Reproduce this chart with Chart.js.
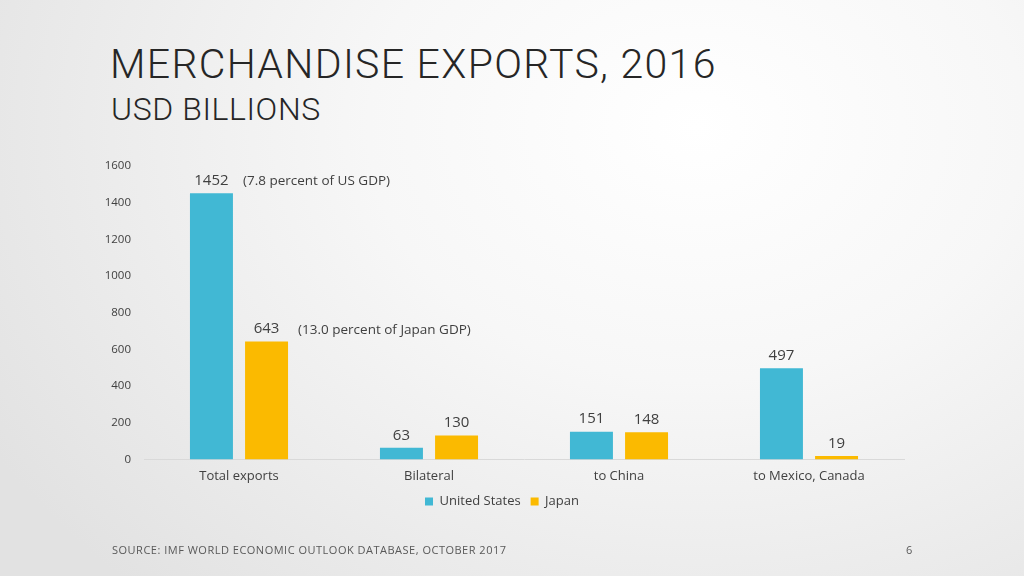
<!DOCTYPE html>
<html>
<head>
<meta charset="utf-8">
<script src="https://cdn.jsdelivr.net/npm/chart.js@4/dist/chart.umd.min.js"></script>
<style>
  html, body { margin: 0; padding: 0; }
  body {
    width: 1024px; height: 576px; overflow: hidden; position: relative;
    background: radial-gradient(ellipse 80% 110% at 68% 22%, #ffffff 0%, #f7f7f7 40%, #e2e2e2 100%);
    font-family: "Open Sans", "Lato", sans-serif; color: #404040;
  }
  #title { position: absolute; left: 110px; top: 44px; font-family: Roboto, sans-serif; font-weight: 300; font-size: 41px; letter-spacing: 1.3px; color: #262626; line-height: 1; }
  #subtitle { position: absolute; left: 111px; top: 93px; font-family: Roboto, sans-serif; font-weight: 300; font-size: 32px; letter-spacing: 0.6px; color: #262626; line-height: 1; }
  #source { position: absolute; left: 112px; top: 542px; font-size: 11px; letter-spacing: 0.5px; color: #595959; }
  #page { position: absolute; left: 906px; top: 542px; font-size: 11px; color: #595959; }
  #wrap { position: absolute; left: 0; top: 0; width: 1024px; height: 576px; }
</style>
</head>
<body>
<div id="title">MERCHANDISE EXPORTS, 2016</div>
<div id="subtitle">USD BILLIONS</div>
<div id="wrap"><canvas id="grafica"></canvas></div>
<div id="source">SOURCE: IMF WORLD ECONOMIC OUTLOOK DATABASE, OCTOBER 2017</div>
<div id="page">6</div>
<script>
var categorias = ['Total exports', 'Bilateral', 'to China', 'to Mexico, Canada'];
var estadosUnidos = [1452, 63, 151, 497];
var japon = [643, 130, 148, 19];
var notasUS = ['(7.8 percent of US GDP)', '', '', ''];
var notasJapon = ['(13.0 percent of Japan GDP)', '', '', ''];
var ticksY = [0, 200, 400, 600, 800, 1000, 1200, 1400, 1600];

/* etiquetas arriba de las barras */
var etiquetas = {
    id: 'etiquetas',
    afterDatasetsDraw: function(chart) {
        var ctx = chart.ctx;
        var notas = [notasUS, notasJapon];
        ctx.save();
        chart.data.datasets.forEach(function(ds, i) {
            var meta = chart.getDatasetMeta(i);
            meta.data.forEach(function(bar, j) {
                ctx.fillStyle = '#404040';
                ctx.font = '15px "Open Sans", sans-serif';
                ctx.textAlign = 'center';
                ctx.textBaseline = 'bottom';
                ctx.fillText(ds.data[j], bar.x, bar.y - 5);
                if (notas[i][j]) {
                    ctx.font = '13.5px "Open Sans", sans-serif';
                    ctx.textAlign = 'left';
                    ctx.fillText(notas[i][j], bar.x + bar.width / 2 + 10, bar.y - 5);
                }
            });
        });
        ctx.restore();
    }
};

var ctx = document.getElementById('grafica').getContext('2d');
window.myBar = new Chart(ctx, {
    type: 'bar',
    data: {
        labels: categorias,
        datasets: [{
            label: 'United States',
            data: estadosUnidos,
            backgroundColor: '#41B8D4',
            categoryPercentage: 0.58,
            barPercentage: 0.78
        }, {
            label: 'Japan',
            data: japon,
            backgroundColor: '#FBBA00',
            categoryPercentage: 0.58,
            barPercentage: 0.78
        }]
    },
    options: {
        responsive: true,
        maintainAspectRatio: false,
        animation: false,
        layout: { padding: { left: 100, right: 120, top: 166, bottom: 58 } },
        plugins: {
            legend: {
                position: 'bottom',
                labels: {
                    usePointStyle: true,
                    pointStyle: 'rect',
                    boxWidth: 8,
                    boxHeight: 8,
                    padding: 10,
                    color: '#404040',
                    font: { family: '"Open Sans", sans-serif', size: 13 }
                }
            },
            tooltip: { enabled: false }
        },
        scales: {
            x: {
                afterFit: function(s) { s.height = s.height - 8; },
                grid: { display: false, drawTicks: false },
                border: { display: true, color: '#d9d9d9', width: 1 },
                ticks: { color: '#404040', padding: 9, font: { family: '"Open Sans", sans-serif', size: 13 } }
            },
            y: {
                min: 0,
                max: 1600,
                afterFit: function(s) { s.width = 44; },
                afterBuildTicks: function(s) { s.ticks = ticksY.map(function(v) { return { value: v }; }); },
                grid: { display: false, drawTicks: false },
                border: { display: false },
                ticks: {
                    color: '#404040', padding: 13,
                    font: { family: '"Open Sans", sans-serif', size: 11.5 },
                    callback: function(v) { return String(v); }
                }
            }
        }
    },
    plugins: [etiquetas]
});
</script>
</body>
</html>
